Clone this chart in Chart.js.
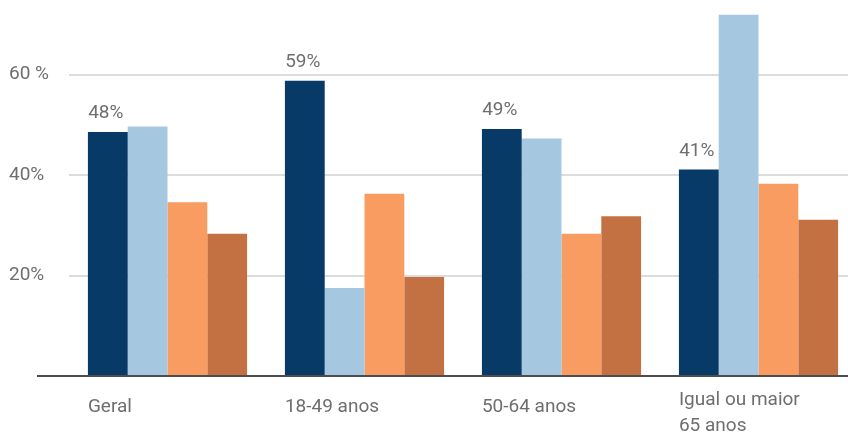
<!DOCTYPE html>
<html>
<head>
<meta charset="utf-8">
<script src="https://cdn.jsdelivr.net/npm/chart.js@4"></script>
<style>
  html, body { margin: 0; background: #fff; overflow: hidden; width: 848px; height: 435px; }
  #wrap { width: 857px; height: 435px; position: relative; }
</style>
</head>
<body>
<div id="wrap"><canvas id="chart"></canvas></div>
<script>
// categories (multi-line labels as arrays)
const categories = [['Geral'], ['18-49 anos'], ['50-64 anos'], ['Igual ou maior', '65 anos']];

// series values (%)
const serieA = [48.6, 58.8, 49.2, 41.1];
const serieB = [49.7, 17.5, 47.3, 72.0];
const serieC = [34.6, 36.3, 28.3, 38.3];
const serieD = [28.3, 19.7, 31.8, 31.1];

// value labels printed above the dark bars
const serieALabels = ['48%', '59%', '49%', '41%'];

// y tick labels
const yTicks = [20, 40, 60];
const yTickLabels = ['20%', '40%', '60 %'];

const textColor = '#6e6e6e';
const font = '19px Roboto';

// bottom axis line, extends a bit left of the plot
const baselinePlugin = {
  id: 'baseline',
  afterDatasetsDraw(chart){
    const {ctx, chartArea, scales} = chart;
    const y0 = scales.y.getPixelForValue(0);
    ctx.save();
    ctx.strokeStyle = '#4d4d4d';
    ctx.lineWidth = 2;
    ctx.beginPath();
    ctx.moveTo(37, y0);
    ctx.lineTo(chartArea.right, y0);
    ctx.stroke();
    ctx.restore();
  }
};

// value labels + category labels left-aligned to each group
const labelsPlugin = {
  id: 'labels',
  afterDraw(chart){
    const {ctx, scales} = chart;
    const meta = chart.getDatasetMeta(0);
    const y0 = scales.y.getPixelForValue(0);
    ctx.save();
    ctx.font = font;
    ctx.fillStyle = textColor;
    ctx.textBaseline = 'alphabetic';
    meta.data.forEach((bar, i)=>{
      const {x, y, width} = bar.getProps(['x', 'y', 'width'], true);
      // value label
      ctx.textAlign = 'center';
      ctx.fillText(serieALabels[i], x - 2, y - 14);
      // category label
      ctx.textAlign = 'left';
      const lines = categories[i];
      const first = y0 + 36 - (lines.length - 1) * 7;
      lines.forEach((t, k)=> ctx.fillText(t, x - width / 2, first + k * 26));
    });
    ctx.restore();
  }
};

new Chart(document.getElementById('chart'), {
  type: 'bar',
  data: {
    labels: categories,
    datasets: [
      { label: 'A', data: serieA, backgroundColor: '#073a66' },
      { label: 'B', data: serieB, backgroundColor: '#a5c7df' },
      { label: 'C', data: serieC, backgroundColor: '#f99c61' },
      { label: 'D', data: serieD, backgroundColor: '#c37143' }
    ]
  },
  options: {
    responsive: true,
    maintainAspectRatio: false,
    animation: false,
    datasets: { bar: { categoryPercentage: 0.808, barPercentage: 1.0 } },
    layout: { padding: { left: 9, right: 0, top: 0, bottom: 59 } },
    plugins: { legend: { display: false }, tooltip: { enabled: false } },
    scales: {
      x: { display: false },
      y: {
        min: 0,
        max: 72,
        afterFit(scale){ scale.width = 60; },
        border: { display: false },
        grid: {
          drawTicks: false,
          lineWidth: 2,
          color: c => (c.tick && yTicks.includes(c.tick.value)) ? '#dcdcdc' : 'rgba(0,0,0,0)'
        },
        ticks: {
          stepSize: 20,
          crossAlign: 'far',
          color: textColor,
          font: { family: 'Roboto', size: 19 },
          callback: v => {
            const i = yTicks.indexOf(v);
            return i >= 0 ? yTickLabels[i] : '';
          }
        }
      }
    }
  },
  plugins: [baselinePlugin, labelsPlugin]
});
</script>
</body>
</html>
